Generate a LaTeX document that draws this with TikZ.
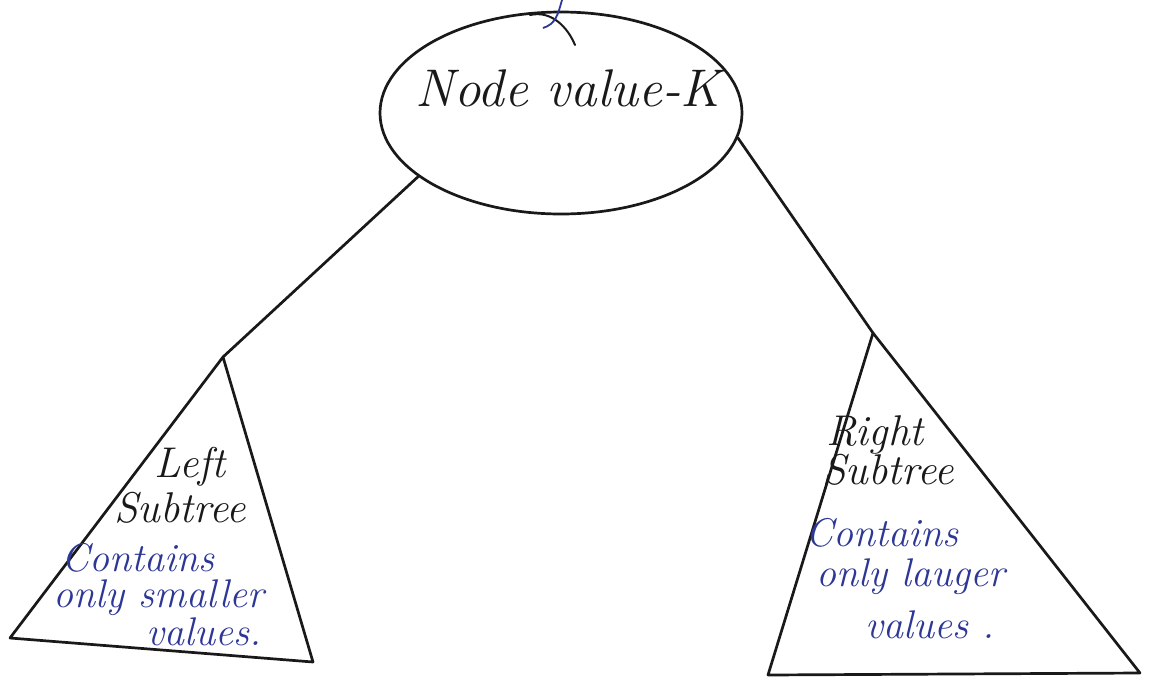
\documentclass[tikz,border=0pt]{standalone}
\usepackage{fontspec}
\usetikzlibrary{shapes.geometric}
\definecolor{ink}{RGB}{25,25,25}
\definecolor{bluepen}{RGB}{45,55,150}
\begin{document}
\begin{tikzpicture}[x=1pt,y=-1pt,
  pen/.style={draw=ink,line width=2.7pt,line cap=round,line join=round},
  title/.style={inner sep=0pt,text=ink,font=\fontsize{53}{56}\selectfont\itshape},
  tag/.style={inner sep=0pt,text=ink,font=\fontsize{43}{46}\selectfont\itshape},
  note/.style={inner sep=0pt,text=bluepen,font=\fontsize{40}{44}\selectfont\itshape}]
\useasboundingbox (0,0) rectangle (1152,681);
\fill[white] (0,0) rectangle (1152,681);

% root node
\node[pen,ellipse,minimum width=362pt,minimum height=202pt,inner sep=0pt] (root) at (561,113) {};
\node[title] (rootlabel) at (568,88) {Node value-K};

% link coming down from the parent
\coordinate (pa) at (530,15);
\coordinate (pb) at (575,45);
\draw[pen,line width=2pt] (pa) .. controls (552,10) and (568,28) .. (pb);
\coordinate (ba) at (562,0);
\coordinate (bb) at (543,28);
\draw[draw=bluepen,line width=1.8pt] (ba) .. controls (558,14) and (556,24) .. (bb);

% left subtree
\coordinate (la) at (223,357);
\coordinate (lb) at (10,638);
\coordinate (lc) at (313,662);
\draw[pen] (la) -- (lb) -- (lc) -- cycle;

% right subtree
\coordinate (ra) at (873,333);
\coordinate (rb) at (768,675);
\coordinate (rc) at (1140,673);
\draw[pen] (ra) -- (rb) -- (rc) -- cycle;

% edges
\draw[pen] (root.204) -- (la);
\draw[pen] (root.-8) -- (ra);

% left subtree text
\node[tag] (lt1) at (190,467) {Left};
\node[tag] (lt2) at (180,508) {Subtree};
\node[note] (ln1) at (138,558) {Contains};
\node[note] (ln2) at (159,598) {only smaller};
\node[note] (ln3) at (204,632) {values.};

% right subtree text
\node[tag] (rt1) at (875,435) {Right};
\node[tag] (rt2) at (888,470) {Subtree};
\node[note] (rn1) at (882,533) {Contains};
\node[note] (rn2) at (911,577) {only lauger};
\node[note] (rn3) at (930,625) {values .};
\end{tikzpicture}
\end{document}
